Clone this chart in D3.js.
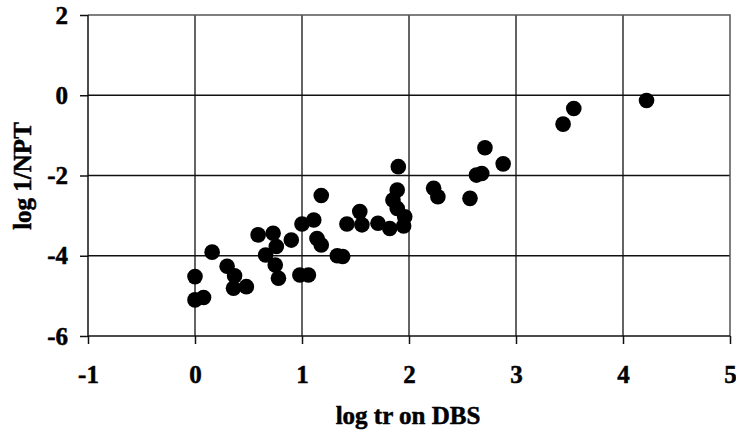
<!DOCTYPE html>
<html>
<head>
<meta charset="utf-8">
<script src="https://cdn.jsdelivr.net/npm/d3@7"></script>
<style>
  body { margin: 0; background: #fff; }
  svg text { font-family: "Liberation Serif", "Times New Roman", serif; font-weight: 700; }
</style>
</head>
<body>
<div id="container"></div>
<script>
// values
var xTicks = [-1, 0, 1, 2, 3, 4, 5];
var yTicks = [-6, -4, -2, 0, 2];

var logTr = [0.00, 0.00, 0.08, 0.16, 0.30, 0.37, 0.36, 0.48, 0.59, 0.66, 0.73, 0.75,
             0.76, 0.78, 0.90, 0.98, 1.06, 1.00, 1.11, 1.14, 1.18, 1.18, 1.33, 1.38,
             1.42, 1.54, 1.56, 1.71, 1.82, 1.85, 1.89, 1.89, 1.90, 1.95, 1.96, 2.23,
             2.27, 2.57, 2.63, 2.68, 2.71, 2.88, 3.44, 3.54, 4.22];
var log1Npt = [-4.52, -5.10, -5.04, -3.91, -4.26, -4.50, -4.81, -4.77, -3.48, -3.98, -3.44, -4.23,
               -3.77, -4.56, -3.61, -4.48, -4.48, -3.21, -3.11, -3.57, -3.73, -2.50, -4.00, -4.02,
               -3.21, -2.90, -3.23, -3.19, -3.32, -2.61, -2.36, -2.82, -1.78, -3.26, -3.03, -2.32,
               -2.53, -2.57, -1.99, -1.95, -1.31, -1.71, -0.72, -0.33, -0.13];

var width = 736, height = 435;
var plotL = 88, plotR = 730, plotT = 15, plotB = 336;

var svg = d3.select("#container").append("svg")
            .attr("width", width).attr("height", height);

var x = d3.scaleLinear().domain([-1, 5]).range([plotL, plotR]);
var y = d3.scaleLinear().domain([-6, 2]).range([plotB, plotT]);

// grid
var grid = svg.append("g").attr("stroke", "#111").attr("stroke-width", 1.3);
grid.selectAll("line.v").data(xTicks.slice(1, -1)).enter().append("line")
    .attr("x1", function(d){ return x(d); }).attr("x2", function(d){ return x(d); })
    .attr("y1", plotT).attr("y2", plotB);
grid.selectAll("line.h").data(yTicks.slice(1, -1)).enter().append("line")
    .attr("x1", plotL).attr("x2", plotR)
    .attr("y1", function(d){ return y(d); }).attr("y2", function(d){ return y(d); });

// top and right frame
svg.append("path")
   .attr("d", "M" + plotL + "," + plotT + "H" + plotR + "V" + plotB)
   .attr("fill", "none").attr("stroke", "#555").attr("stroke-width", 1.5);

// axes
var fmt = function(d){ return String(d); };
var xAxis = svg.append("g").attr("transform", "translate(0," + plotB + ")")
   .call(d3.axisBottom(x).tickValues(xTicks).tickSize(8).tickPadding(21).tickFormat(fmt));
var yAxis = svg.append("g").attr("transform", "translate(" + plotL + ",0)")
   .call(d3.axisLeft(y).tickValues(yTicks).tickSize(8).tickPadding(12).tickFormat(fmt));

[xAxis, yAxis].forEach(function(a){
  a.attr("font-size", null).attr("font-family", null);
  a.select(".domain").attr("stroke", "#111").attr("stroke-width", 1.5);
  a.selectAll(".tick line").attr("stroke", "#111").attr("stroke-width", 1.5);
  a.selectAll("text").attr("fill", "#000").attr("stroke", "#000").attr("stroke-width", 0.5)
   .style("font-size", "25px");
});
xAxis.select(".domain").attr("d", "M" + plotL + ",0H" + plotR);
yAxis.select(".domain").attr("d", "M0," + plotT + "V" + plotB);

// points
svg.append("g").selectAll("circle")
   .data(logTr.map(function(d, i){ return [d, log1Npt[i]]; }))
   .enter().append("circle")
   .attr("cx", function(d){ return x(d[0]); })
   .attr("cy", function(d){ return y(d[1]); })
   .attr("r", 7.8)
   .attr("fill", "#000");

// titles
svg.append("text").text("log tr on DBS")
   .attr("x", 408).attr("y", 424)
   .attr("text-anchor", "middle").attr("stroke", "#000").attr("stroke-width", 0.5)
   .style("font-size", "25px");

svg.append("text").text("log 1/NPT")
   .attr("transform", "translate(31,176) rotate(-90)")
   .attr("text-anchor", "middle").attr("stroke", "#000").attr("stroke-width", 0.5)
   .style("font-size", "25px");
</script>
</body>
</html>
